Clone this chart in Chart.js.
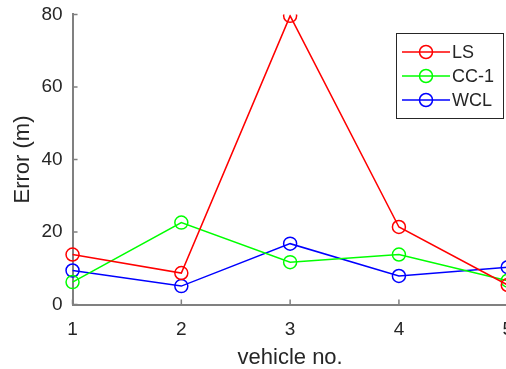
<!DOCTYPE html>
<html>
<head>
<meta charset="utf-8">
<script src="https://cdn.jsdelivr.net/npm/chart.js@4.4.1/dist/chart.umd.min.js"></script>
<style>
  html, body { margin: 0; padding: 0; background: #fff; overflow: hidden; }
  #wrap { width: 506px; height: 369px; overflow: hidden; position: relative; }
  #box { width: 529px; height: 378px; position: absolute; left: 0; top: -7px; }
</style>
</head>
<body>
<div id="wrap"><div id="box"><canvas id="errChart"></canvas></div></div>
<script>
'use strict';

// data
const vehicles = ['1', '2', '3', '4', '5'];
const lsErr = [13.8, 8.7, 79.6, 21.4, 5.4];
const ccErr = [6.2, 22.6, 11.7, 13.8, 6.6];
const wclErr = [9.4, 5.1, 16.8, 7.9, 10.3];
const yTicks = [0, 20, 40, 60, 80];

const txtColor = '#262626';
const axisColor = '#808080';
const fontFam = '"Liberation Sans", Arial, sans-serif';

// inward ticks like matlab
const innerTicks = {
  id: 'innerTicks',
  afterDraw(chart) {
    const ctx = chart.ctx;
    const xs = chart.scales.x;
    const ys = chart.scales.y;
    const area = chart.chartArea;
    ctx.save();
    ctx.strokeStyle = axisColor;
    ctx.lineWidth = 1.5;
    ctx.beginPath();
    yTicks.forEach(function (v) {
      const py = ys.getPixelForValue(v);
      ctx.moveTo(area.left, py);
      ctx.lineTo(area.left + 5, py);
    });
    vehicles.forEach(function (v, i) {
      const px = xs.getPixelForValue(i);
      ctx.moveTo(px, area.bottom);
      ctx.lineTo(px, area.bottom - 5);
    });
    ctx.stroke();
    ctx.restore();
  }
};

// legend box in the upper right corner (page coords, canvas is shifted up 7px)
const boxLegend = {
  id: 'boxLegend',
  afterDraw(chart) {
    const ctx = chart.ctx;
    const dy = 7;
    const left = 396, top = 33 + dy, w = 107, h = 85;
    ctx.save();
    ctx.fillStyle = '#fff';
    ctx.fillRect(left, top, w, h);
    ctx.strokeStyle = '#262626';
    ctx.lineWidth = 1;
    ctx.strokeRect(left + 0.5, top + 0.5, w, h);
    ctx.font = '18px ' + fontFam;
    ctx.textBaseline = 'middle';
    chart.data.datasets.forEach(function (ds, i) {
      const y = 52 + dy + i * 24;
      ctx.strokeStyle = ds.borderColor;
      ctx.lineWidth = 1.5;
      ctx.beginPath();
      ctx.moveTo(402, y);
      ctx.lineTo(450, y);
      ctx.stroke();
      ctx.beginPath();
      ctx.arc(426, y, 6.5, 0, Math.PI * 2);
      ctx.stroke();
      ctx.fillStyle = txtColor;
      ctx.fillText(ds.label, 452, y + 1);
    });
    ctx.restore();
  }
};

const makeSet = function (label, data, color) {
  return {
    label: label,
    data: data,
    borderColor: color,
    backgroundColor: 'transparent',
    borderWidth: 1.5,
    pointRadius: 6.5,
    pointBorderWidth: 1.5,
    pointBackgroundColor: 'transparent',
    pointBorderColor: color,
    tension: 0
  };
};

const init = function () {
  const ctx = document.getElementById('errChart').getContext('2d');
  new Chart(ctx, {
    type: 'line',
    data: {
      labels: vehicles,
      datasets: [
        makeSet('LS', lsErr, '#ff0000'),
        makeSet('CC-1', ccErr, '#00ff00'),
        makeSet('WCL', wclErr, '#0000ff')
      ]
    },
    options: {
      responsive: true,
      maintainAspectRatio: false,
      animation: false,
      layout: { padding: { left: 10, top: 0, right: 0, bottom: 0 } },
      plugins: {
        legend: { display: false },
        tooltip: { enabled: false }
      },
      scales: {
        x: {
          type: 'category',
          offset: false,
          grid: { display: false, drawTicks: false },
          border: { display: true, color: axisColor, width: 2 },
          ticks: {
            color: txtColor,
            padding: 16,
            font: { family: fontFam, size: 19, lineHeight: 1 },
            maxRotation: 0
          },
          title: {
            display: true,
            text: 'vehicle no.',
            color: txtColor,
            padding: { top: -11, bottom: 0 },
            font: { family: fontFam, size: 22 }
          }
        },
        y: {
          min: 0,
          max: 80,
          grid: { display: false, drawTicks: false },
          border: { display: true, color: axisColor, width: 2 },
          afterBuildTicks: function (axis) {
            axis.ticks = yTicks.map(function (v) { return { value: v }; });
          },
          ticks: {
            color: txtColor,
            padding: 10,
            font: { family: fontFam, size: 19 }
          },
          title: {
            display: true,
            text: 'Error (m)',
            color: txtColor,
            padding: { top: 0, bottom: -5 },
            font: { family: fontFam, size: 22 }
          }
        }
      }
    },
    plugins: [innerTicks, boxLegend]
  });
};

document.addEventListener('DOMContentLoaded', init);
</script>
</body>
</html>
